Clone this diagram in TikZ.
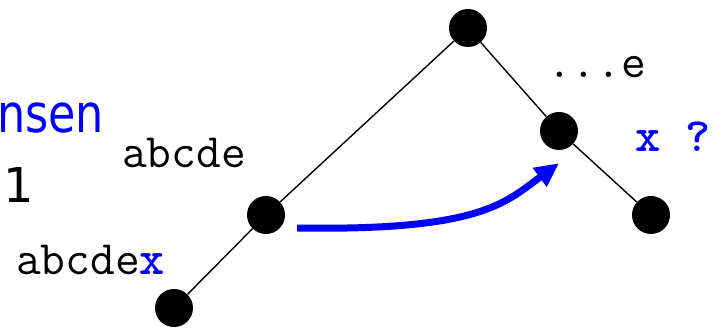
\documentclass[tikz,border=0pt]{standalone}
\usepackage{fontspec}
\newfontfamily\slidesans{DejaVu Sans}
\newfontfamily\boldmono{lmmonolt10-bold.otf}
\usepackage{tikz}
\usetikzlibrary{arrows.meta, positioning}
\tikzstyle{vertex} = [circle, fill=black, minimum size=38pt, inner sep=0pt]
\tikzstyle{edge} = [line width=1.4pt]
\tikzstyle{strlabel} = [inner sep=0pt, anchor=base west,
  font=\ttfamily\fontsize{48}{48}\selectfont]
\tikzstyle{jump} = [line width=7pt, blue, -{Triangle[length=24pt, width=22pt]}]

\begin{document}
\begin{tikzpicture}[x=1pt, y=1pt]
    \useasboundingbox (0,0) rectangle (716,328);
    \clip (0,0) rectangle (716,328);
    \node[anchor=base west, inner sep=0pt, text=blue, xscale=0.84, transform shape,
      font=\slidesans\fontsize{53}{53}\selectfont] (word) at (-3,195) {nsen};
    \node[anchor=base west, inner sep=0pt, font=\slidesans\fontsize{48}{48}\selectfont] (one) at (3,125) {1};
    \node[vertex] (root) at (468,300) {};
    \node[vertex] (mid) at (559,197) {};
    \node[vertex] (right) at (651,113) {};
    \node[vertex] (left) at (266,113) {};
    \node[vertex] (leaf) at (174,20) {};
    \draw[edge] (root) -- (left);
    \draw[edge] (root) -- (mid);
    \draw[edge] (mid) -- (right);
    \draw[edge] (left) -- (leaf);
    \node[strlabel] (lpath) at (122,160) {abcde};
    \node[strlabel] (leafpath) at (16,53) {abcde\textcolor{blue}{\boldmono x}};
    \node[strlabel] (suffix) at (547,250) {...e};
    \node[strlabel, text=blue, font=\boldmono\fontsize{48}{48}\selectfont] (ask) at (635,176) {x ?};
    \draw[jump] ([xshift=12pt, yshift=-13pt]left.east) .. controls (480,97) and (505,125) .. ([yshift=-13pt]mid.south);
  \end{tikzpicture}
\end{document}
